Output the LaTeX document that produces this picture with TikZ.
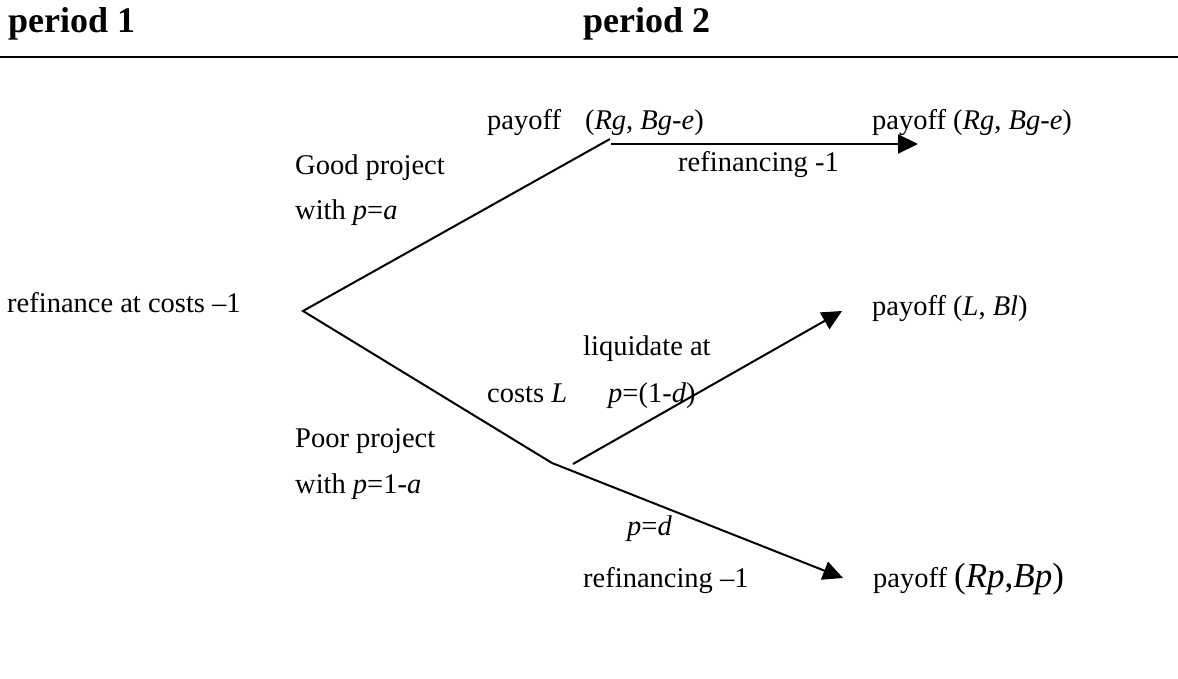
\documentclass[tikz,border=0pt]{standalone}
\usepackage{fontspec}
\setmainfont{Liberation Serif}
\usetikzlibrary{arrows.meta}
\begin{document}
\begin{tikzpicture}[x=1pt,y=-1pt,
  lbl/.style={anchor=base west,inner sep=0pt,font=\fontsize{28.5}{34}\selectfont},
  hdr/.style={anchor=base west,inner sep=0pt,font=\fontsize{36}{40}\selectfont\bfseries},
  edge/.style={line width=2pt},
  arr/.style={line width=2pt,-{Triangle[length=20pt,width=19pt]}}]
\useasboundingbox (0,0) rectangle (1178,679);
% header
\node[hdr] (p1) at (8,33) {period 1};
\node[hdr] (p2) at (583,33) {period 2};
\coordinate (hl) at (0,57);
\coordinate (hr) at (1178,57);
\draw[line width=2pt] (hl) -- (hr);
% labels
\node[lbl] (lroot) at (7,312) {refinance at costs –1};
\node[lbl] (good1) at (295,175) {Good project};
\node[lbl] (good2) at (295,220) {with \textit{p}=\textit{a}};
\node[lbl] (poor1) at (295,447) {Poor project};
\node[lbl] (poor2) at (295,493) {with \textit{p}=1-\textit{a}};
\node[lbl] (payg) at (487,130) {payoff\hspace{24pt}(\textit{Rg}, \textit{Bg}-\textit{e})};
\node[lbl] (refi1) at (678,172) {refinancing -1};
\node[lbl] (payg2) at (872,130) {payoff (\textit{Rg}, \textit{Bg}-\textit{e})};
\node[lbl] (payl) at (872,315) {payoff (\textit{L}, \textit{Bl})};
\node[lbl] (liq) at (583,355) {liquidate at};
\node[lbl] (costs) at (487,402) {costs \textit{L}};
\node[lbl] (pld) at (608,402) {\textit{p}=(1-\textit{d})};
\node[lbl] (pd) at (627,535) {\textit{p}=\textit{d}};
\node[lbl] (refi2) at (583,587) {refinancing –1};
\node[lbl] (payp) at (873,587) {payoff {\fontsize{35}{40}\selectfont(\textit{Rp},\textit{Bp})}};
% tree
\coordinate (root) at (303,311);
\coordinate (gtop) at (610,139);
\coordinate (hs) at (611,144);
\coordinate (gend) at (918,144);
\coordinate (pn) at (552,463);
\coordinate (ls) at (573,464);
\coordinate (le) at (842,311);
\coordinate (pe) at (843,578);
\draw[edge] (gtop) -- (root) -- (pn);
\draw[arr] (hs) -- (gend);
\draw[arr] (ls) -- (le);
\draw[arr] (pn) -- (pe);
\end{tikzpicture}
\end{document}
